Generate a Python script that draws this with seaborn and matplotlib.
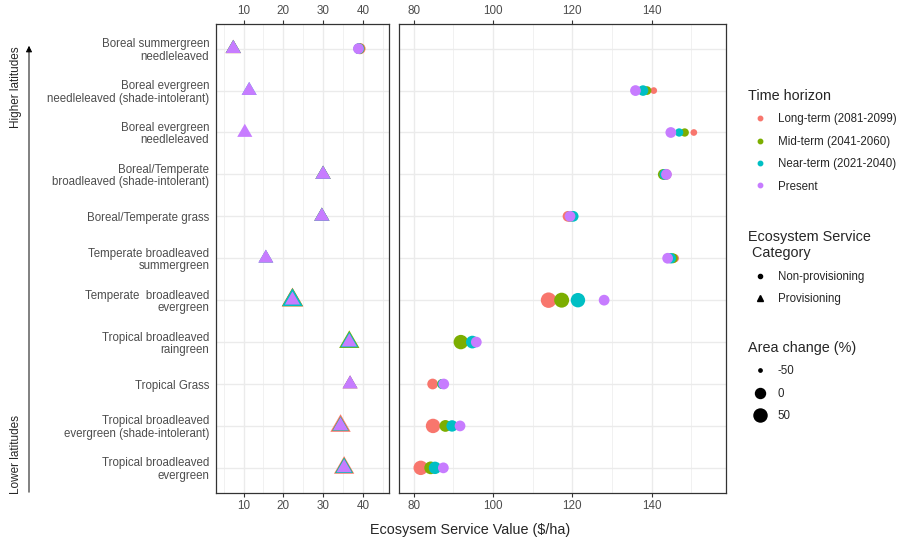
import numpy as np
import pandas as pd
import matplotlib
matplotlib.use("Agg")
import matplotlib.pyplot as plt
from matplotlib.path import Path
from matplotlib.lines import Line2D
from matplotlib.patches import FancyArrowPatch
from matplotlib.ticker import MultipleLocator
import seaborn as sns

# ---- data -------------------------------------------------------------
pft_labels = [
    "Boreal summergreen\nneedleleaved",
    "Boreal evergreen\nneedleleaved (shade-intolerant)",
    "Boreal evergreen\nneedleleaved",
    "Boreal/Temperate\nbroadleaved (shade-intolerant)",
    "Boreal/Temperate grass",
    "Temperate broadleaved\nsummergreen",
    "Temperate  broadleaved\nevergreen",
    "Tropical broadleaved\nraingreen",
    "Tropical Grass",
    "Tropical broadleaved\nevergreen (shade-intolerant)",
    "Tropical broadleaved\nevergreen",
]

horizons = ["Long-term (2081-2099)", "Mid-term (2041-2060)",
            "Near-term (2021-2040)", "Present"]
horizon_colors = ["#F8766D", "#7CAE00", "#00BFC4", "#C77CFF"]

categories = ["Non-provisioning", "Provisioning"]

# Non-provisioning service value ($/ha) per horizon
nonprov_long = [39.3, 140.5, 150.6, 143.6, 118.9, 145.8, 114.0, 91.9, 84.8, 84.9, 81.8]
nonprov_mid = [39.1, 138.8, 148.3, 142.9, 119.5, 145.3, 117.3, 91.9, 87.2, 88.0, 84.3]
nonprov_near = [39.0, 137.8, 146.9, 143.3, 120.2, 144.8, 121.4, 94.8, 87.3, 89.7, 85.4]
nonprov_present = [38.9, 135.9, 144.8, 143.7, 119.4, 144.0, 128.0, 95.8, 87.6, 91.7, 87.5]

# Provisioning service value ($/ha), same for every horizon
prov_value = [7.4, 11.4, 10.3, 30.0, 29.7, 15.6, 22.3, 36.6, 36.8, 34.4, 35.3]

# Area change (%) per horizon
area_long = [5, -46, -46, 3, 0, -30, 80, 20, 0, 60, 60]
area_mid = [0, -26, -30, 0, 0, -10, 70, 60, -10, 15, 30]
area_near = [0, -3, -30, 0, 0, -5, 60, 30, -10, 10, 25]
area_present = [0] * 11

nonprov_by_h = [nonprov_long, nonprov_mid, nonprov_near, nonprov_present]
area_by_h = [area_long, area_mid, area_near, area_present]

records = []
for h, npv, ar in zip(horizons, nonprov_by_h, area_by_h):
    for i in range(len(pft_labels)):
        records.append((i, h, "Non-provisioning", npv[i], ar[i]))
        records.append((i, h, "Provisioning", prov_value[i], ar[i]))
df = pd.DataFrame(records, columns=["row", "horizon", "category", "value", "area"])
df["panel"] = np.where(df["value"] < 60, 0, 1)

# ---- style ------------------------------------------------------------
sns.set_style("white")
plt.rcParams["font.family"] = ["Liberation Sans", "DejaVu Sans"]

W, H = 897, 544
fig = plt.figure(figsize=(W / 100, H / 100), dpi=100)


def fig_rect(x0, y0, x1, y1):
    return [x0 / W, 1 - y1 / H, (x1 - x0) / W, (y1 - y0) / H]


axL = fig.add_axes(fig_rect(216, 23.5, 389, 493))
axR = fig.add_axes(fig_rect(398.5, 23.5, 726, 493))

# equilateral triangle centred on its centroid
tri = Path([(0, 1), (-0.866, -0.5), (0.866, -0.5), (0, 1)],
           [Path.MOVETO, Path.LINETO, Path.LINETO, Path.CLOSEPOLY])

circle_sizes = (12, 140)
tri_sizes = (32, 370)
size_norm = (-60, 100)

for p, ax in enumerate([axL, axR]):
    for cat, marker, sizes in [("Non-provisioning", "o", circle_sizes),
                               ("Provisioning", tri, tri_sizes)]:
        sub = df[(df["panel"] == p) & (df["category"] == cat)]
        if sub.empty:
            continue
        sns.scatterplot(data=sub, x="value", y="row", hue="horizon",
                        hue_order=horizons, palette=horizon_colors,
                        size="area", size_norm=size_norm, sizes=sizes,
                        marker=marker, linewidth=0, edgecolor="none",
                        legend=False, ax=ax, zorder=3)

axL.set_xlim(3.05, 46.6)
axR.set_xlim(76.2, 158.7)
axL.xaxis.set_major_locator(MultipleLocator(10))
axL.xaxis.set_minor_locator(MultipleLocator(5))
axR.xaxis.set_major_locator(MultipleLocator(20))
axR.xaxis.set_minor_locator(MultipleLocator(10))

for ax in (axL, axR):
    ax.set_ylim(10.6, -0.6)
    ax.set_yticks(range(len(pft_labels)))
    ax.set_xlabel("")
    ax.set_ylabel("")
    ax.set_axisbelow(True)
    ax.grid(which="major", color="#EBEBEB", linewidth=1.0)
    ax.grid(which="minor", axis="x", color="#EBEBEB", linewidth=0.5)
    for s in ax.spines.values():
        s.set_color("#333333")
        s.set_linewidth(0.9)
    ax.tick_params(axis="x", which="major", top=True, labeltop=True,
                   bottom=True, labelbottom=True, length=2.8, width=0.8,
                   color="#333333", labelsize=8.4, labelcolor="#4D4D4D",
                   pad=2)
    ax.tick_params(axis="x", which="minor", length=0, top=False, bottom=False)

axL.set_yticklabels(pft_labels, fontsize=8.3, color="#4D4D4D",
                    linespacing=1.05)
axL.tick_params(axis="y", length=2.8, width=0.8, color="#333333", pad=2)
axR.set_yticklabels([])
axR.tick_params(axis="y", length=0)

# ---- titles and annotations ---------------------------------------------
fig.text(470 / W, 1 - 530 / H, "Ecosysem Service Value ($/ha)",
         ha="center", va="center", fontsize=10.4)

fig.add_artist(FancyArrowPatch((29 / W, 1 - 495 / H), (29 / W, 1 - 43 / H),
                               transform=fig.transFigure, arrowstyle="-|>",
                               mutation_scale=9, linewidth=0.7,
                               color="black"))
fig.text(16 / W, 1 - 87 / H, "Higher latitudes", rotation=90,
         ha="center", va="center", fontsize=8.5)
fig.text(16 / W, 1 - 454 / H, "Lower latitudes", rotation=90,
         ha="center", va="center", fontsize=8.5)

# ---- legends ------------------------------------------------------------
leg_kw = dict(loc="upper left", frameon=False, fontsize=8.3,
              title_fontsize=10.4, alignment="left", handlelength=2.0,
              handletextpad=0.6, labelspacing=0.9, borderpad=0,
              borderaxespad=0)

h_handles = [Line2D([], [], marker="o", ls="", color=c, markersize=3.2)
             for c in horizon_colors]
fig.legend(h_handles, horizons, title="Time horizon",
           bbox_to_anchor=(748 / W, 1 - 89 / H), **leg_kw)

c_handles = [Line2D([], [], marker="o", ls="", color="black", markersize=3.0),
             Line2D([], [], marker="^", ls="", color="black", markersize=4.0)]
fig.legend(c_handles, categories, title="Ecosystem Service\n Category",
           bbox_to_anchor=(748 / W, 1 - 230 / H), **leg_kw)

area_levels = ["-50", "0", "50"]
a_handles = [Line2D([], [], marker="o", ls="", color="black", markersize=m)
             for m in (2.4, 7.2, 9.4)]
fig.legend(a_handles, area_levels, title="Area change (%)",
           bbox_to_anchor=(748 / W, 1 - 341 / H), **leg_kw)

fig.savefig("out.png", dpi=100, facecolor="white")
